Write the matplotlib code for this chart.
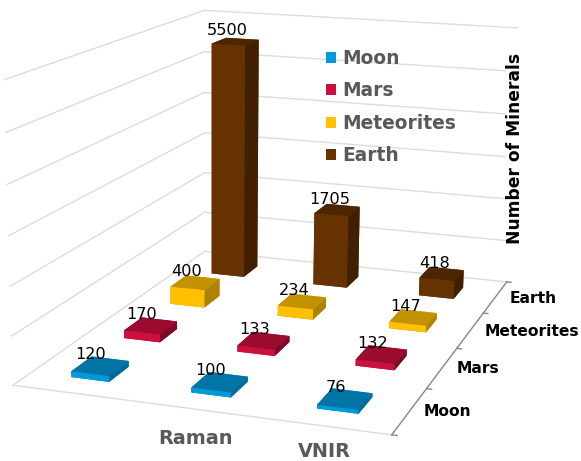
import numpy as np
import matplotlib
matplotlib.use('Agg')
import matplotlib.pyplot as plt
from matplotlib.patches import Patch
from mpl_toolkits.mplot3d import proj3d

plt.rcParams['font.family'] = ['DejaVu Sans']

# mineral counts per technique (columns) and body (rows)
moon = [120, 100, 76]
mars = [170, 133, 132]
meteorites = [400, 234, 147]
earth = [5500, 1705, 418]
bodies = ['Moon', 'Mars', 'Meteorites', 'Earth']
techniques = ['', 'Raman', 'VNIR']
grid_values = [0, 1000, 2000, 3000, 4000, 5000, 6000]

series = [moon, mars, meteorites, earth]
# front, side, top shades of each bar colour
shades = {
    'Moon': ('#0099DA', '#006A99', '#0075A6'),
    'Mars': ('#CC0F3E', '#7F0A27', '#9B0B2E'),
    'Meteorites': ('#FFC000', '#AD8300', '#C29200'),
    'Earth': ('#663300', '#402000', '#4D2600'),
}
grid_color = '#DCDCDC'
text_gray = '#595959'

bar_dx, bar_dy = 0.32, 0.37

W, H = 581, 461
fig = plt.figure(figsize=(W / 100, H / 100), dpi=100)
# the 3D axes is bigger than the figure so the box fills it
ax = fig.add_axes([-50.5 / W, (H - 527.9) / H, 653 / W, 653 / H], projection='3d')
ax.computed_zorder = False
ax.set_xlim(0, 3)
ax.set_ylim(0, 4)
ax.set_zlim(0, 6000)
ax.view_init(13.659, -71.583, -0.579)
ax.set_proj_type('persp', focal_length=0.4963)
ax.set_box_aspect((0.7365, 1, 0.5819))
ax.set_axis_off()
M = ax.get_proj()


def label(x, y, z, text, dx=0, dy=0, **kw):
    # text at a 3D point, nudged by a pixel offset on screen
    px, py, _ = proj3d.proj_transform(x, y, z, M)
    ax.annotate(text, xy=(px, py), xytext=(dx, dy), textcoords='offset pixels',
                annotation_clip=False, zorder=50, **kw)


# walls
for g in grid_values:
    ax.plot([0, 0], [0, 4], [g, g], color=grid_color, lw=1, zorder=1)
    ax.plot([0, 3], [4, 4], [g, g], color=grid_color, lw=1, zorder=1)
# floor front edge and depth axis with ticks
ax.plot([0, 3], [0, 0], [0, 0], color=grid_color, lw=1, zorder=1)
ax.plot([3, 3], [0, 4], [0, 0], color='#868686', lw=1, zorder=2)
for j in range(5):
    ax.plot([3, 3.04], [j, j], [0, 0], color='#868686', lw=1, zorder=2)

# bars from back to front
for j in range(3, -1, -1):
    name = bodies[j]
    front, side, top = shades[name]
    # bar3d faces: bottom, top, front, back, left, right
    face_colors = [top, top, front, front, side, side]
    for i in range(3):
        val = series[j][i]
        xc, yc = i + 0.5, j + 0.5
        ax.bar3d(xc - bar_dx / 2, yc - bar_dy / 2, 0, bar_dx, bar_dy, val,
                 color=face_colors, shade=False, zorder=10 + (3 - j) * 3 + i)
        label(xc - 0.06, yc - 0.05, val + 100, str(val), ha='center', va='bottom',
              fontsize=11.6, color='black')

# body names along the depth axis
for j, name in enumerate(bodies):
    label(3, j + 0.5, 0, name, dx=14, dy=-1, ha='left', va='center', fontsize=11.2,
          fontweight='bold', color='black')

# technique names under the front edge
label(1.5, 0, 0, techniques[1], dy=-29, ha='center', va='center', fontsize=13.9,
      fontweight='bold', color=text_gray)
label(2.5, 0, 0, techniques[2], dy=-25, ha='center', va='center', fontsize=13.9,
      fontweight='bold', color=text_gray)

fig.text(515 / W, 1 - 148 / H, 'Number of Minerals', rotation=90, ha='center',
         va='center', fontsize=12.3, fontweight='bold', color='black',
         bbox=dict(facecolor='white', edgecolor='none', pad=0))

handles = [Patch(facecolor=shades[b][0], label=b) for b in bodies]
fig.legend(handles=handles, loc='upper left', bbox_to_anchor=(326 / W, 1 - 49 / H),
           frameon=False, borderpad=0, borderaxespad=0, handlelength=0.54,
           handleheight=0.54, handletextpad=0.32, labelspacing=0.72,
           labelcolor=text_gray, prop=dict(size=13.4, weight='bold'))

fig.savefig('out.png', dpi=100)
